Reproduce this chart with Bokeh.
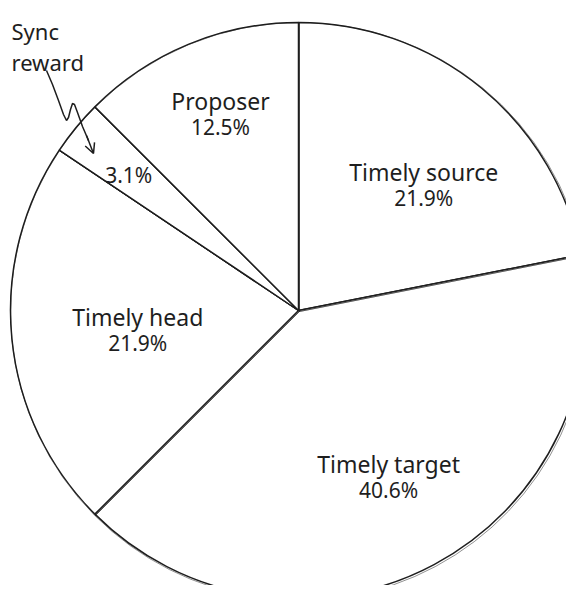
import math
from bokeh.plotting import figure
from bokeh.models import Arrow, OpenHead, ColumnDataSource
from bokeh.core.properties import value
from bokeh.embed import file_html
from bokeh.resources import INLINE

# ---- data ----
categories = ["Timely source", "Timely target", "Timely head", "Sync reward", "Proposer"]
shares = [21.9, 40.6, 21.9, 3.1, 12.5]
pct_labels = ["21.9%", "40.6%", "21.9%", "3.1%", "12.5%"]
inside_names = ["Timely source", "Timely target", "Timely head", "", "Proposer"]
callout_text = "Sync\nreward"

# ---- layout (image-pixel based coordinates) ----
W, H = 566, 585
FONT = "Noto Sans"
INK = "#1e1e1e"
cx, cy_screen, R = 298, 310, 288
label_r = [177, 189, 162, 217, 211]        # label distance from centre per slice
label_turn = [-5.6, 0.4, 1.5, 0.9, -0.8]   # small angular nudges (deg)

def sy(y):  # image y -> data y
    return 601 - y

p = figure(width=W, height=H, x_range=(0, W), y_range=(601 - H, 601),
           output_backend="svg", toolbar_location=None, min_border=0,
           background_fill_color="white", border_fill_color="white")
p.axis.visible = False
p.grid.visible = False
p.outline_line_color = None

total = sum(shares)
starts, ends, mids = [], [], []
acc = 0.0
for s in shares:
    a0 = math.pi / 2 - 2 * math.pi * acc / total
    acc += s
    a1 = math.pi / 2 - 2 * math.pi * acc / total
    starts.append(a0)
    ends.append(a1)
    mids.append((a0 + a1) / 2)

src = ColumnDataSource(dict(x=[cx] * len(shares), y=[sy(cy_screen)] * len(shares),
                            start=starts, end=ends, cat=categories))
# sketchy double stroke
p.wedge(x="x", y="y", radius=R, start_angle="start", end_angle="end", direction="clock",
        source=src, fill_color="white", line_color=INK, line_width=1.5)
p.wedge(x=[cx + 1] * len(shares), y=[sy(cy_screen) - 1] * len(shares), radius=R + 1,
        start_angle=starts, end_angle=ends, direction="clock",
        fill_color=None, line_color=INK, line_width=0.7, line_alpha=0.7)

# labels
names_x, names_y, names_t = [], [], []
pct_x, pct_y = [], []
for i, m in enumerate(mids):
    a = m + math.radians(label_turn[i])
    lx = cx + label_r[i] * math.cos(a)
    ly = sy(cy_screen) + label_r[i] * math.sin(a)
    if inside_names[i]:
        names_x.append(lx); names_y.append(ly + 13); names_t.append(inside_names[i])
        pct_x.append(lx); pct_y.append(ly - 13)
    else:
        pct_x.append(lx); pct_y.append(ly)

p.text(x=names_x, y=names_y, text=names_t, text_font=value(FONT), text_font_size="23px",
       text_align="center", text_baseline="middle", text_color=INK)
p.text(x=pct_x, y=pct_y, text=pct_labels, text_font=value(FONT), text_font_size="21px",
       text_align="center", text_baseline="middle", text_color=INK)

# callout
p.text(x=[11], y=[sy(15)], text=[callout_text], text_font=value(FONT), text_font_size="22px",
       text_align="left", text_baseline="top", text_color=INK, text_line_height=1.05)

squig_x = [46, 52, 58, 63, 66, 68, 70, 72, 74, 77, 82, 88]
squig_y = [70, 84, 100, 114, 120, 117, 109, 103, 104, 112, 126, 140]
p.line(x=squig_x, y=[sy(v) for v in squig_y], line_color=INK, line_width=1.5)
p.add_layout(Arrow(end=OpenHead(size=10, line_color=INK, line_width=1.5),
                   x_start=86, y_start=sy(135), x_end=93, y_end=sy(153),
                   line_color=INK, line_width=1.5))

open("out.html", "w").write(file_html(p, INLINE))
